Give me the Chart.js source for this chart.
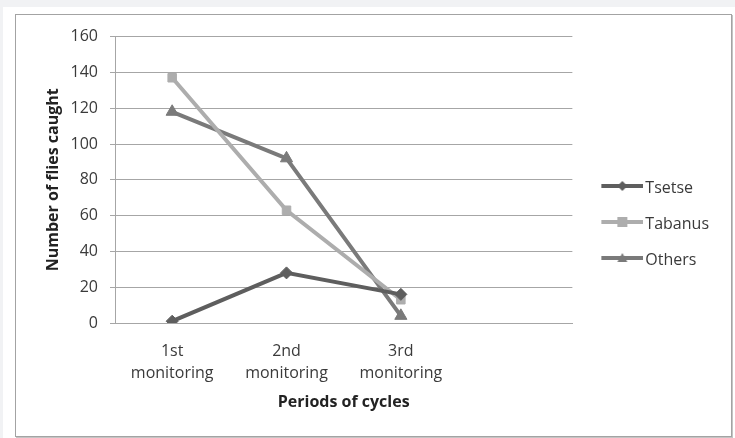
<!DOCTYPE html>
<html>
<head>
<meta charset="utf-8">
<script src="https://cdn.jsdelivr.net/npm/chart.js@4.4.1/dist/chart.umd.min.js"></script>
<style>
  html, body { margin: 0; padding: 0; width: 735px; height: 438px; overflow: hidden; background: #f1f2f4; }
  #sheet { position: absolute; left: 3px; top: 7px; width: 732px; height: 431px; background: #ffffff; }
  #frame { position: absolute; left: 15px; top: 14px; width: 715px; height: 421px;
           border: 1px solid #a3a3a3; box-shadow: 1px 1px 0 #c4c4c4; background: #ffffff; }
  canvas { display: block; }
</style>
</head>
<body>
<div id="sheet"></div>
<div id="frame"><canvas id="chart" width="715" height="421"></canvas></div>
<script>
// Monitoring periods (the fourth slot is left empty)
const periods = [["1st", "monitoring"], ["2nd", "monitoring"], ["3rd", "monitoring"], ""];

// Flies caught per period
const tsetse  = [1, 28, 16];
const tabanus = [137, 63, 13];
const others  = [118, 92, 4];

// Value axis
const yMin = 0;
const yMax = 160;
const yStep = 20;

const FONT = "'Open Sans', 'Liberation Sans', sans-serif";
const TEXT = "#3a3a3a";
const GRID = "#a6a6a6";

const series = [
  { label: "Tsetse",  data: tsetse,  color: "#5e5e5e", style: "rectRot",  radius: 6 },
  { label: "Tabanus", data: tabanus, color: "#adadad", style: "rect",     radius: 6 },
  { label: "Others",  data: others,  color: "#7a7a7a", style: "triangle", radius: 7 }
];

// Legend swatch: a short line with the series marker on it
function drawMarker(ctx, style, cx, cy, r) {
  ctx.beginPath();
  if (style === "rect") {
    ctx.rect(cx - r, cy - r, 2 * r, 2 * r);
  } else if (style === "rectRot") {
    ctx.moveTo(cx, cy - r); ctx.lineTo(cx + r, cy); ctx.lineTo(cx, cy + r); ctx.lineTo(cx - r, cy);
    ctx.closePath();
  } else {
    ctx.moveTo(cx, cy - r); ctx.lineTo(cx + r, cy + r * 0.8); ctx.lineTo(cx - r, cy + r * 0.8);
    ctx.closePath();
  }
  ctx.fill();
}
function swatch(s) {
  const c = document.createElement("canvas");
  c.width = 57; c.height = 18;
  const ctx = c.getContext("2d");
  ctx.strokeStyle = s.color; ctx.fillStyle = s.color; ctx.lineWidth = 4;
  // drawn 2px above the image centre so it sits level with the label text
  ctx.beginPath(); ctx.moveTo(15, 7); ctx.lineTo(57, 7); ctx.stroke();
  drawMarker(ctx, s.style, 36, 7, 5);
  return c;
}
const swatches = series.map(swatch);

new Chart(document.getElementById("chart"), {
  type: "line",
  data: {
    labels: periods,
    datasets: series.map(s => ({
      label: s.label,
      data: s.data,
      borderColor: s.color,
      backgroundColor: s.color,
      borderWidth: 4,
      pointStyle: s.style,
      pointRadius: s.radius,
      pointBorderWidth: 1,
      pointBackgroundColor: s.color,
      pointBorderColor: s.color,
      tension: 0,
      fill: false
    }))
  },
  options: {
    responsive: false,
    devicePixelRatio: 1,
    animation: false,
    events: [],
    layout: { padding: { left: 0, right: 12, top: 20, bottom: 23 } },
    plugins: {
      tooltip: { enabled: false },
      legend: {
        position: "right",
        labels: {
          font: { family: FONT, size: 16 },
          color: TEXT,
          padding: 20,
          usePointStyle: true,
          pointStyleWidth: 45,
          generateLabels(chart) {
            const items = Chart.defaults.plugins.legend.labels.generateLabels(chart);
            items.forEach((it, i) => { it.pointStyle = swatches[i]; });
            return items;
          }
        }
      }
    },
    scales: {
      x: {
        offset: true,
        afterFit(scale) { scale.height = 90; },
        grid: { display: false, drawTicks: false },
        border: { display: true, color: GRID },
        ticks: { font: { family: FONT, size: 16, lineHeight: 1.4 }, color: TEXT, padding: 17, maxRotation: 0, autoSkip: false },
        title: { display: true, text: "Periods of cycles", font: { family: FONT, size: 16, weight: "bold" }, color: "#222222", padding: { top: 0, bottom: 1 } }
      },
      y: {
        min: yMin,
        max: yMax,
        afterFit(scale) { scale.width = 99; },
        ticks: { stepSize: yStep, font: { family: FONT, size: 16 }, color: TEXT, padding: 12 },
        grid: { color: GRID, lineWidth: 1, tickLength: 5, drawTicks: true },
        border: { display: true, color: GRID },
        title: { display: true, text: "Number of flies caught", font: { family: FONT, size: 16, weight: "bold" }, color: "#222222", padding: { top: 28, bottom: 0 } }
      }
    }
  }
});
</script>
</body>
</html>
